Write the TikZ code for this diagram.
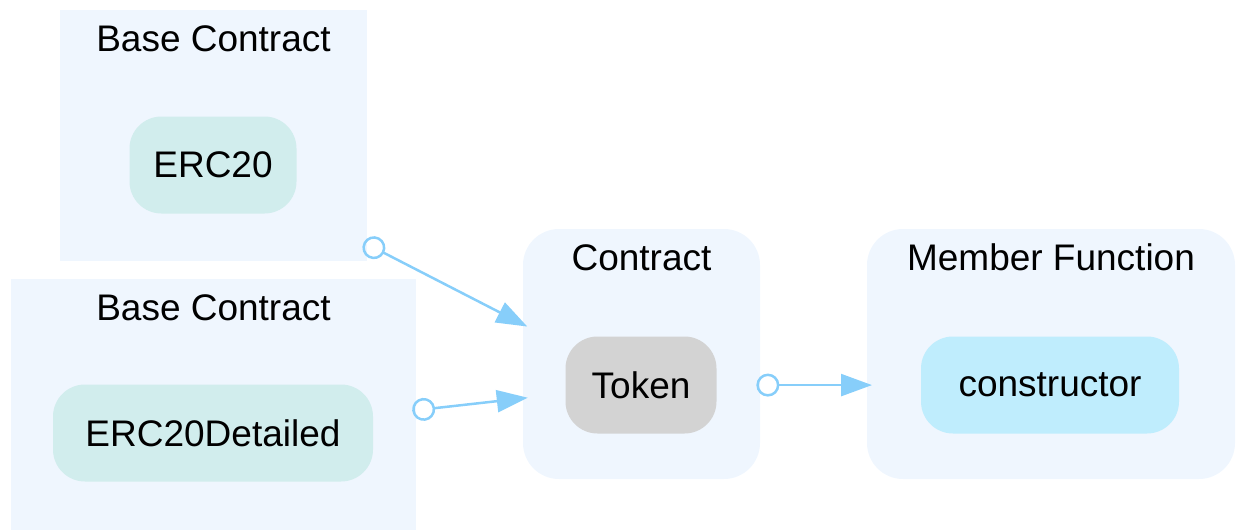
\documentclass[tikz,border=0pt]{standalone}
\usepackage{fontspec}
\setmainfont{Liberation Sans}
\usetikzlibrary{arrows.meta}

\definecolor{clusterbg}{HTML}{EFF6FE}
\definecolor{basefill}{HTML}{D1EDED}
\definecolor{tokenfill}{HTML}{D3D3D3}
\definecolor{funcfill}{HTML}{BFEDFD}
\definecolor{edgeblue}{HTML}{87CEFA}

\begin{document}
\begin{tikzpicture}[x=1pt,y=-1pt,
    cluster/.style={fill=clusterbg, draw=none, inner sep=0pt},
    box/.style={rounded corners=32pt, inner sep=0pt, minimum height=97pt, font=\fontsize{37}{44}\selectfont},
    title/.style={anchor=base, inner sep=0pt, font=\fontsize{37}{44}\selectfont},
    inherit/.style={draw=edgeblue, line width=2.5pt, shorten <=-4pt, shorten >=-5pt,
        {Circle[open,length=23pt,width=23pt]}-{Triangle[length=31pt,width=22pt]}}]
    \useasboundingbox (0,0) rectangle (1236,530);

    % Clusters
    \node[cluster, minimum width=307pt, minimum height=251pt] (base1) at (213.5,135.5) {};
    \node[cluster, minimum width=405pt, minimum height=251pt] (base2) at (213.5,404.5) {};
    \node[cluster, rounded corners=36pt, minimum width=237pt, minimum height=250pt] (contract) at (641.5,354) {};
    \node[cluster, rounded corners=36pt, minimum width=368pt, minimum height=250pt] (member) at (1051,354) {};

    % Cluster titles
    \node[title] (base1label) at ([yshift=-42pt]base1.north) {Base Contract};
    \node[title] (base2label) at ([yshift=-42pt]base2.north) {Base Contract};
    \node[title] (contractlabel) at ([yshift=-42pt]contract.north) {Contract};
    \node[title] (memberlabel) at ([yshift=-42pt]member.north) {Member Function};

    % Nodes
    \node[box, fill=basefill, minimum width=167pt] (erc20) at (213,165) {ERC20};
    \node[box, fill=basefill, minimum width=320pt] (detailed) at (213,433) {ERC20Detailed};
    \node[box, fill=tokenfill, minimum width=151pt] (token) at (641,385) {Token};
    \node[box, fill=funcfill, minimum width=258pt] (ctor) at (1050,385) {constructor};

    % Edges, cut at the cluster borders
    \coordinate (erc20out) at (intersection of erc20.center--token.center and base1.north east--base1.south east);
    \coordinate (erc20in) at (intersection of erc20.center--token.center and contract.north west--contract.south west);
    \coordinate (detailedout) at (intersection of detailed.center--token.center and base2.north east--base2.south east);
    \coordinate (detailedin) at (intersection of detailed.center--token.center and contract.north west--contract.south west);
    \coordinate (tokenout) at (intersection of token.center--ctor.center and contract.north east--contract.south east);
    \coordinate (ctorin) at (intersection of token.center--ctor.center and member.north west--member.south west);

    \draw[inherit] (erc20out) -- (erc20in);
    \draw[inherit] (detailedout) -- (detailedin);
    \draw[inherit] (tokenout) -- (ctorin);
\end{tikzpicture}
\end{document}
